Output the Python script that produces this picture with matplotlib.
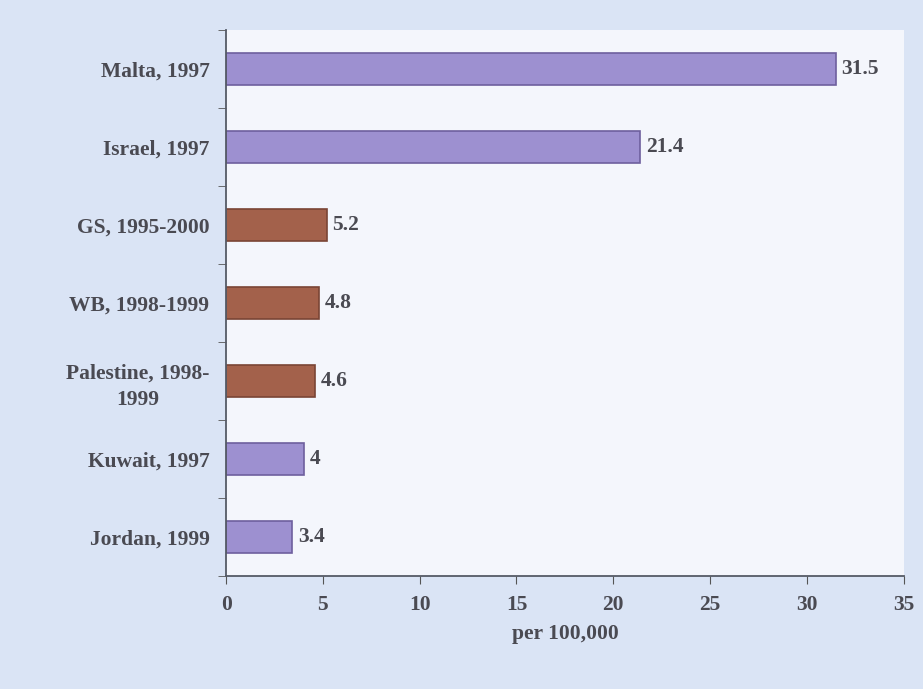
import matplotlib
matplotlib.use("Agg")
import matplotlib.pyplot as plt

categories = ["Malta, 1997", "Israel, 1997", "GS, 1995-2000", "WB, 1998-1999",
              "Palestine, 1998-\n1999", "Kuwait, 1997", "Jordan, 1999"]
values = [31.5, 21.4, 5.2, 4.8, 4.6, 4, 3.4]
value_labels = ["31.5", "21.4", "5.2", "4.8", "4.6", "4", "3.4"]
groups = ["other", "other", "pal", "pal", "pal", "other", "other"]
xticks = [0, 5, 10, 15, 20, 25, 30, 35]

colors = {"other": "#9d90d0", "pal": "#a3614b"}
edges = {"other": "#6e5f9e", "pal": "#7a4535"}
text_color = "#4a4a52"
fs = 15.5

plt.rcParams['font.family'] = ['Liberation Serif', 'DejaVu Serif']
plt.rcParams['font.weight'] = 'bold'

fig = plt.figure(figsize=(9.23, 6.89), dpi=100, facecolor="#dae4f5")
ax = fig.add_axes([0.245, 0.164, 0.734, 0.792])
ax.set_facecolor("#f4f6fc")

n = len(categories)
ypos = list(range(n))
for i, (v, g) in enumerate(zip(values, groups)):
    ax.barh(i, v, height=0.41, color=colors[g], edgecolor=edges[g], linewidth=1.2)
    ax.text(v + 0.3, i, value_labels[i], va="center", ha="left",
            fontsize=fs, color=text_color, fontweight="bold")

ax.set_ylim(n - 0.5, -0.5)
ax.set_xlim(0, 35)
ax.set_xticks(xticks)
ax.set_xticklabels([str(t) for t in xticks], fontsize=fs, color=text_color)
ax.set_yticks(ypos)
ax.set_yticklabels(categories, fontsize=fs, color=text_color, linespacing=1.4)
for lab in ax.get_yticklabels():
    lab.set_multialignment("center")
ax.tick_params(axis="y", length=0, pad=12)
ax.set_yticks([i - 0.5 for i in range(n + 1)], minor=True)
ax.tick_params(axis="y", which="minor", length=6, color="#555")
ax.tick_params(axis="x", length=6, color="#555", pad=8)
for s in ["top", "right"]:
    ax.spines[s].set_visible(False)
for s in ["left", "bottom"]:
    ax.spines[s].set_color("#555a66")
    ax.spines[s].set_linewidth(1.3)
ax.set_xlabel("per 100,000", fontsize=fs, color=text_color, labelpad=6,
              fontweight="bold")

fig.savefig("out.png", dpi=100, facecolor=fig.get_facecolor())
